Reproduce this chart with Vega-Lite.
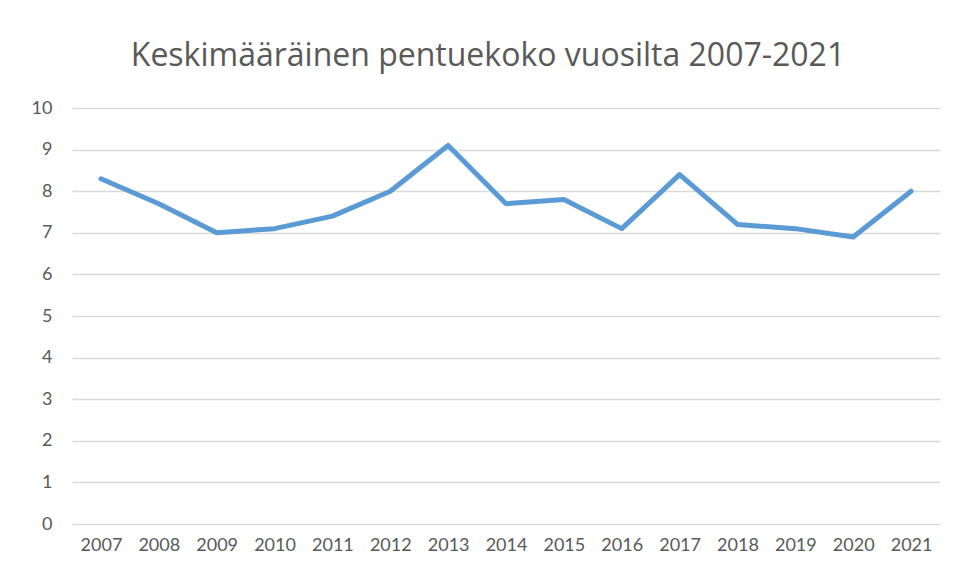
{
  "$schema": "https://vega.github.io/schema/vega-lite/v6.json",
  "width": 868,
  "height": 416,
  "padding": {"left": 31, "top": 40, "right": 15, "bottom": 10},
  "background": "white",
  "title": {
    "text": "Keskimääräinen pentuekoko vuosilta 2007-2021",
    "font": "Open Sans",
    "fontSize": 32,
    "fontWeight": "normal",
    "color": "#595959",
    "anchor": "middle",
    "dx": -18,
    "offset": 26
  },
  "data": {
    "values": [
      {"vuosi": "2007", "pentuekoko": 8.3},
      {"vuosi": "2008", "pentuekoko": 7.7},
      {"vuosi": "2009", "pentuekoko": 7.0},
      {"vuosi": "2010", "pentuekoko": 7.1},
      {"vuosi": "2011", "pentuekoko": 7.4},
      {"vuosi": "2012", "pentuekoko": 8.0},
      {"vuosi": "2013", "pentuekoko": 9.1},
      {"vuosi": "2014", "pentuekoko": 7.7},
      {"vuosi": "2015", "pentuekoko": 7.8},
      {"vuosi": "2016", "pentuekoko": 7.1},
      {"vuosi": "2017", "pentuekoko": 8.4},
      {"vuosi": "2018", "pentuekoko": 7.2},
      {"vuosi": "2019", "pentuekoko": 7.1},
      {"vuosi": "2020", "pentuekoko": 6.9},
      {"vuosi": "2021", "pentuekoko": 8.0}
    ]
  },
  "mark": {"type": "line", "color": "#5b9bd5", "strokeWidth": 5, "strokeCap": "round", "strokeJoin": "round"},
  "encoding": {
    "x": {
      "field": "vuosi",
      "type": "ordinal",
      "scale": {"type": "point", "padding": 0.5},
      "axis": {
        "title": null,
        "labelAngle": 0,
        "labelFont": "Lato",
        "labelFontSize": 18,
        "labelColor": "#595959",
        "labelPadding": 12,
        "ticks": false,
        "domain": false,
        "grid": false
      }
    },
    "y": {
      "field": "pentuekoko",
      "type": "quantitative",
      "scale": {"domain": [0, 10]},
      "axis": {
        "title": null,
        "values": [0, 1, 2, 3, 4, 5, 6, 7, 8, 9, 10],
        "labelFont": "Lato",
        "labelFontSize": 18,
        "labelColor": "#595959",
        "labelPadding": 20,
        "ticks": false,
        "domain": false,
        "grid": true,
        "gridColor": "#d9d9d9",
        "gridWidth": 1.5
      }
    }
  },
  "config": {"view": {"stroke": null}}
}
